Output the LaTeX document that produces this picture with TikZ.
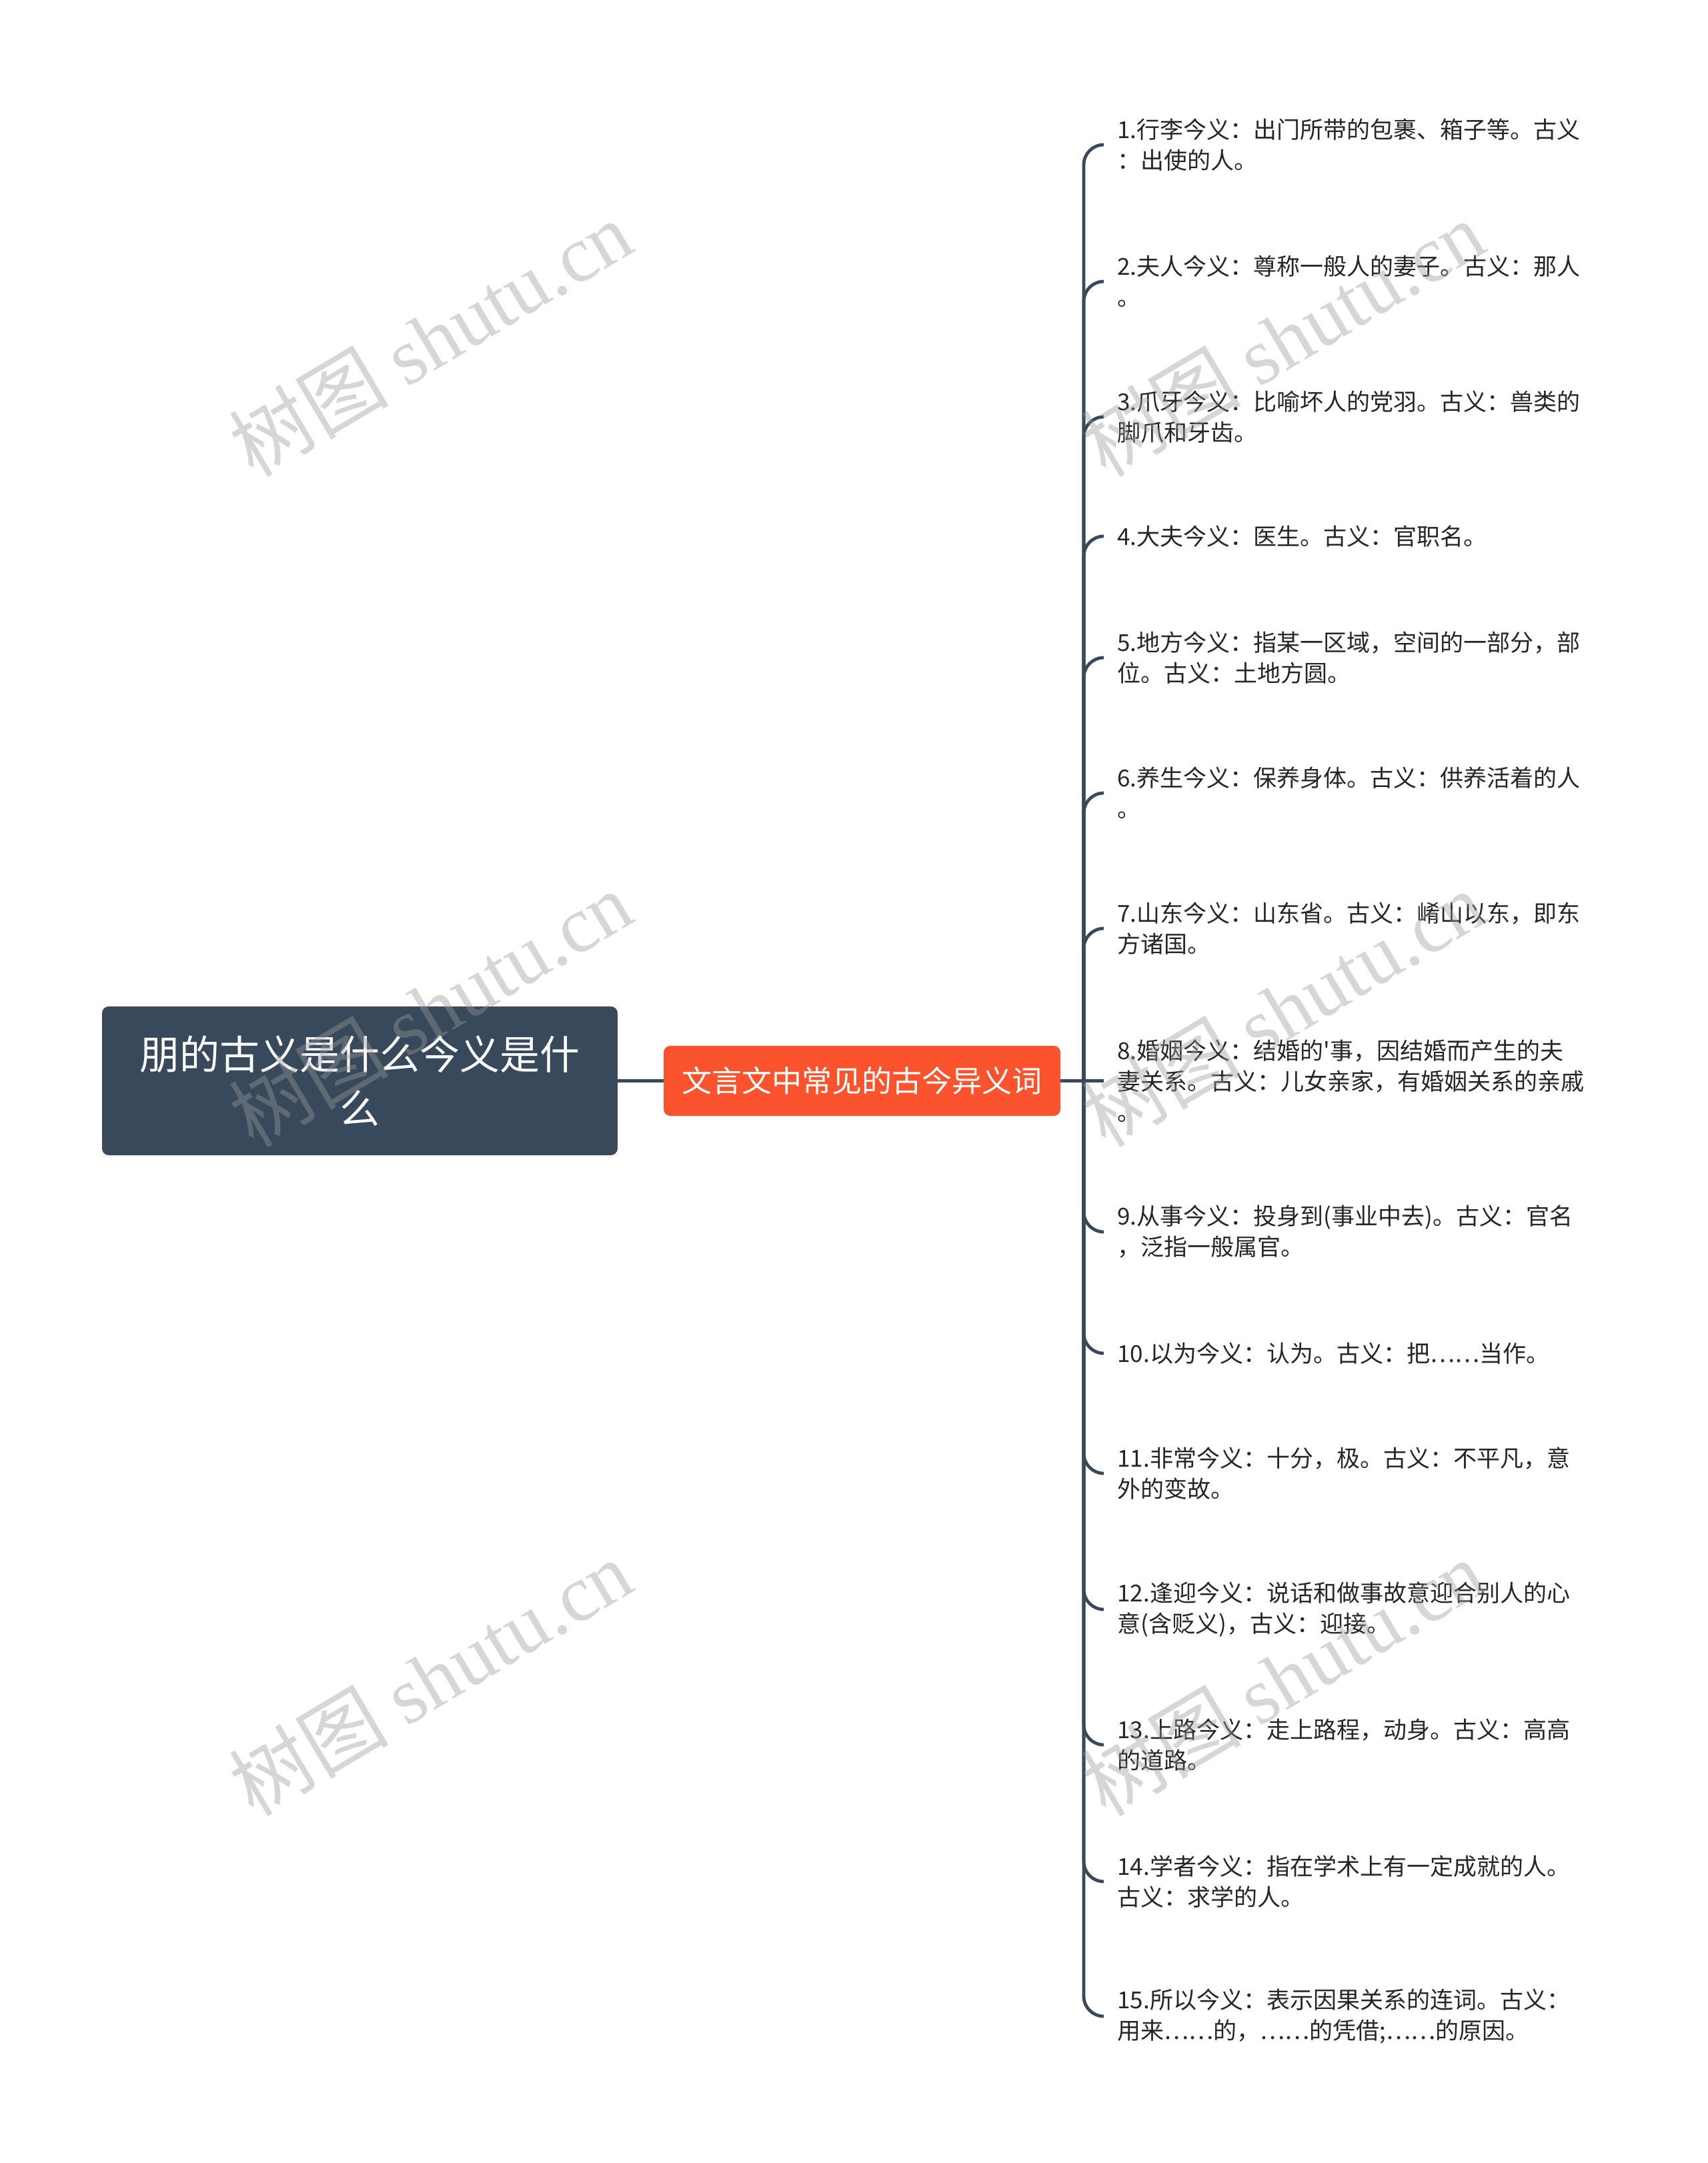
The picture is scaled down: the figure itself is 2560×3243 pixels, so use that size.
\documentclass[tikz,border=0pt]{standalone}
\usepackage{fontspec}
\setmainfont{Noto Sans CJK SC}[Ligatures=TeXOff]
\newfontfamily\cjk{Noto Sans CJK SC}
\newfontfamily\wmserif{Liberation Serif}
\definecolor{slate}{HTML}{37495B}
\definecolor{topicorange}{HTML}{FA532D}
\definecolor{leaftext}{HTML}{262626}
\definecolor{wmgray}{HTML}{9A9A9A}
\tikzset{
  rootbox/.style={fill=slate, text=white, rounded corners=5pt, minimum width=386.5pt, minimum height=111.5pt, align=center, inner sep=0pt, font=\fontsize{30pt}{40.5pt}\selectfont},
  topicbox/.style={fill=topicorange, text=white, rounded corners=5pt, minimum width=297.5pt, minimum height=52.5pt, align=center, inner sep=0pt, font=\fontsize{22.5pt}{28pt}\selectfont},
  leafbox/.style={anchor=west, inner xsep=10pt, inner ysep=2pt, align=left, text=leaftext, font=\fontsize{17.5pt}{23pt}\selectfont},
  conn/.style={draw=slate, line width=2.4pt},
  wm/.style={text=wmgray, opacity=0.4, rotate=30.7, inner sep=0pt, font=\fontsize{60pt}{66pt}\selectfont}
}
\begin{document}
\begin{tikzpicture}[x=0.5pt, y=-0.5pt]
\useasboundingbox (0,0) rectangle (2560,3243);
\fill[white] (0,0) rectangle (2560,3243);

\node[rootbox] (root) at (539.5,1620.5) {朋的古义是什么今义是什\\么};
\node[topicbox] (topic) at (1292.5,1620.5) {文言文中常见的古今异义词};

\node[leafbox] (l1) at (1655,217) {1.行李今义：出门所带的包裹、箱子等。古义\\：出使的人。};
\node[leafbox] (l2) at (1655,422) {2.夫人今义：尊称一般人的妻子。古义：那人\\。};
\node[leafbox] (l3) at (1655,625) {3.爪牙今义：比喻坏人的党羽。古义：兽类的\\脚爪和牙齿。};
\node[leafbox] (l4) at (1655,804) {4.大夫今义：医生。古义：官职名。};
\node[leafbox] (l5) at (1655,986) {5.地方今义：指某一区域，空间的一部分，部\\位。古义：土地方圆。};
\node[leafbox] (l6) at (1655,1189) {6.养生今义：保养身体。古义：供养活着的人\\。};
\node[leafbox] (l7) at (1655,1392) {7.山东今义：山东省。古义：崤山以东，即东\\方诸国。};
\node[leafbox] (l8) at (1655,1620.5) {8.婚姻今义：结婚的'事，因结婚而产生的夫\\妻关系。古义：儿女亲家，有婚姻关系的亲戚\\。};
\node[leafbox] (l9) at (1655,1847) {9.从事今义：投身到(事业中去)。古义：官名\\，泛指一般属官。};
\node[leafbox] (l10) at (1655,2029) {10.以为今义：认为。古义：把……当作。};
\node[leafbox] (l11) at (1655,2209) {11.非常今义：十分，极。古义：不平凡，意\\外的变故。};
\node[leafbox] (l12) at (1655,2413) {12.逢迎今义：说话和做事故意迎合别人的心\\意(含贬义)，古义：迎接。};
\node[leafbox] (l13) at (1655,2616) {13.上路今义：走上路程，动身。古义：高高\\的道路。};
\node[leafbox] (l14) at (1655,2821) {14.学者今义：指在学术上有一定成就的人。\\古义：求学的人。};
\node[leafbox] (l15) at (1655,3023) {15.所以今义：表示因果关系的连词。古义：\\用来……的，……的凭借;……的原因。};

\coordinate (J) at (1625,1620.5);
\draw[conn] (root.east) -- (topic.west);
\draw[conn] (topic.east) -- (J);
\draw[conn] (J) -- (l8.west);
\foreach \n in {l1,l2,l3,l4,l5,l6,l7,l9,l10,l11,l12,l13,l14,l15}{
  \draw[conn, rounded corners=15pt] (J) |- (\n.west);
}

\node[wm] (w1) at (645,507) {树图 {\wmserif shutu.cn}};
\node[wm] (w2) at (645,1512) {树图 {\wmserif shutu.cn}};
\node[wm] (w3) at (645,2515) {树图 {\wmserif shutu.cn}};
\node[wm] (w4) at (1923,507) {树图 {\wmserif shutu.cn}};
\node[wm] (w5) at (1923,1512) {树图 {\wmserif shutu.cn}};
\node[wm] (w6) at (1923,2515) {树图 {\wmserif shutu.cn}};
\end{tikzpicture}
\end{document}
